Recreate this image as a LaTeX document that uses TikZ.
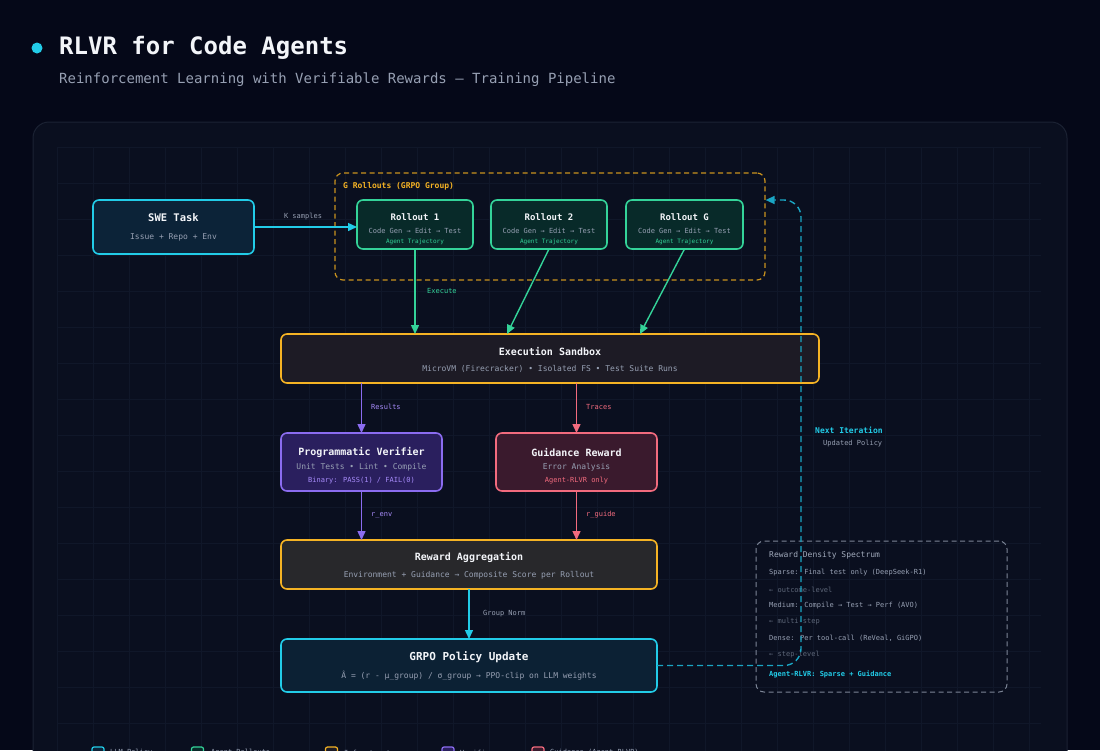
\documentclass[tikz,border=0pt]{standalone}
\usepackage{fontspec}
\setmainfont{DejaVu Sans Mono}
\usetikzlibrary{arrows.meta,calc}
\definecolor{bgc}{HTML}{050818}
\definecolor{cardc}{HTML}{0A0F1F}
\definecolor{cardb}{HTML}{1B2233}
\definecolor{gridc}{HTML}{101729}
\definecolor{cyanc}{HTML}{22CCE8}
\definecolor{cyand}{HTML}{1AA6C4}
\definecolor{greenc}{HTML}{34D399}
\definecolor{orangec}{HTML}{F5B324}
\definecolor{oranged}{HTML}{C9921E}
\definecolor{violetc}{HTML}{8B6CF0}
\definecolor{violetl}{HTML}{A78BFA}
\definecolor{rosec}{HTML}{F26B7E}
\definecolor{greyt}{HTML}{97A0B3}
\definecolor{greyd}{HTML}{5E6779}
\definecolor{greyb}{HTML}{7C8596}
\definecolor{whitet}{HTML}{F3F5F9}
\definecolor{sweF}{HTML}{0C2338}
\definecolor{rollF}{HTML}{082A29}
\definecolor{sandF}{HTML}{1D1B25}
\definecolor{verF}{HTML}{2A1F5E}
\definecolor{guiF}{HTML}{3A1A2D}
\definecolor{aggF}{HTML}{28282B}
\definecolor{grpoF}{HTML}{0C2134}
\newcommand\pxs[1]{\fontsize{#1}{#1}\selectfont}
\begin{document}
\begin{tikzpicture}[x=1pt,y=-1pt,
  box/.style={rounded corners=6pt, line width=1.6pt, inner sep=0pt, outer sep=0pt},
  ttl/.style={font=\pxs{10}\bfseries, text=whitet, inner sep=0pt},
  sub/.style={font=\pxs{8}, text=greyt, inner sep=0pt},
  lbl/.style={font=\pxs{7}, inner sep=0pt, anchor=west},
  spec/.style={font=\pxs{7}, text=greyt, inner sep=0pt, anchor=west},
  tip/.style={-{Triangle[length=9pt,width=8pt]}, line width=1.4pt},
  leg/.style={rounded corners=2pt, line width=1.2pt, minimum width=12pt, minimum height=12pt, inner sep=0pt}
]
\useasboundingbox (0,0) rectangle (1100,750);
\clip (0,0) rectangle (1100,750);
\fill[bgc] (0,0) rectangle (1100,750);
% header
\fill[cyanc] (37,48) circle (5.5);
\node[anchor=west, inner sep=0pt, font=\pxs{24}\bfseries, text=whitet] (title) at (59,48) {RLVR for Code Agents};
\node[anchor=west, inner sep=0pt, font=\pxs{14}, text=greyt] (subtitle) at (59,80) {Reinforcement Learning with Verifiable Rewards — Training Pipeline};
% card
\draw[fill=cardc, draw=cardb, line width=1pt, rounded corners=16pt] (33,122) rectangle (1067,820);
\foreach \i in {0,...,27} \draw[gridc, line width=0.8pt] ({57+36*\i},147) -- ({57+36*\i},760);
\foreach \j in {0,...,17} \draw[gridc, line width=0.8pt] (57,{147+36*\j}) -- (1041,{147+36*\j});
% group box
\node[draw=oranged, dashed, dash pattern=on 5pt off 3.5pt, line width=1.2pt, rounded corners=8pt, minimum width=430pt, minimum height=107pt, inner sep=0pt] (grp) at (550,226.5) {};
\node[anchor=west, inner sep=0pt, font=\pxs{8}\bfseries, text=orangec] (grpl) at (343,186) {G Rollouts (GRPO Group)};
% SWE task
\node[box, draw=cyanc, fill=sweF, minimum width=161pt, minimum height=54pt] (swe) at (173.5,227) {};
\node[ttl, font=\pxs{10.5}\bfseries] (swet) at (173.5,218) {SWE Task};
\node[sub] (swes) at (173.5,237) {Issue + Repo + Env};
% rollouts
\node[box, draw=greenc, fill=rollF, minimum width=116pt, minimum height=49pt] (r1) at (415,224.5) {};
\node[box, draw=greenc, fill=rollF, minimum width=116pt, minimum height=49pt] (r2) at (549,224.5) {};
\node[box, draw=greenc, fill=rollF, minimum width=117pt, minimum height=49pt] (rG) at (684.5,224.5) {};
\foreach \n/\t in {r1/Rollout 1, r2/Rollout 2, rG/Rollout G}{
  \node[ttl, font=\pxs{9}\bfseries] (\n-t) at ($(\n.center)+(0,-7.5)$) {\t};
  \node[sub, font=\pxs{7}] (\n-s) at ($(\n.center)+(0,6.5)$) {Code Gen → Edit → Test};
  \node[sub, font=\pxs{6}, text=greenc] (\n-a) at ($(\n.center)+(0,17.5)$) {Agent Trajectory};
}
% sandbox
\node[box, draw=orangec, fill=sandF, minimum width=538pt, minimum height=49pt] (sand) at (550,358.5) {};
\node[ttl] (sandt) at (550,351) {Execution Sandbox};
\node[sub] (sands) at (550,369) {MicroVM (Firecracker) • Isolated FS • Test Suite Runs};
% verifier
\node[box, draw=violetc, fill=verF, minimum width=161pt, minimum height=58pt] (ver) at (361.5,462) {};
\node[ttl] (vert) at (361.5,452) {Programmatic Verifier};
\node[sub] (vers) at (361.5,467) {Unit Tests • Lint • Compile};
\node[sub, font=\pxs{7}, text=violetl] (verb) at (361.5,481) {Binary: PASS(1) / FAIL(0)};
% guidance
\node[box, draw=rosec, fill=guiF, minimum width=161pt, minimum height=58pt] (gui) at (576.5,462) {};
\node[ttl] (guit) at (576.5,452) {Guidance Reward};
\node[sub] (guis) at (576.5,467) {Error Analysis};
\node[sub, font=\pxs{7}, text=rosec] (guib) at (576.5,481) {Agent-RLVR only};
% aggregation
\node[box, draw=orangec, fill=aggF, minimum width=376pt, minimum height=49pt] (agg) at (469,564.5) {};
\node[ttl] (aggt) at (469,557) {Reward Aggregation};
\node[sub] (aggs) at (469,575) {Environment + Guidance → Composite Score per Rollout};
% grpo
\node[box, draw=cyanc, fill=grpoF, minimum width=376pt, minimum height=53pt] (grpo) at (469,665.5) {};
\node[ttl, font=\pxs{11}\bfseries] (grpot) at (469,657) {GRPO Policy Update};
\node[sub] (grpos) at (469,676) {Â = (r - μ\_group) / σ\_group → PPO-clip on LLM weights};
% spectrum box
\node[draw=greyb, dashed, dash pattern=on 5pt off 3.5pt, line width=1pt, rounded corners=8pt, minimum width=251pt, minimum height=151pt, inner sep=0pt] (spec) at (881.5,616.5) {};
\node[spec, font=\pxs{8}, text={greyt!90!white}] (sp0) at (769,555) {Reward Density Spectrum};
\node[spec] (sp1) at (769,573) {Sparse: Final test only (DeepSeek-R1)};
\node[spec, text=greyd] (sp2) at (769,589.5) {← outcome-level};
\node[spec] (sp3) at (769,606) {Medium: Compile → Test → Perf (AVO)};
\node[spec, text=greyd] (sp4) at (769,622) {← multi-step};
\node[spec] (sp5) at (769,638) {Dense: Per tool-call (ReVeal, GiGPO)};
\node[spec, text=greyd] (sp6) at (769,654.5) {← step-level};
\node[spec, font=\pxs{7}\bfseries, text=cyanc] (sp7) at (769,674) {Agent-RLVR: Sparse + Guidance};
% arrows
\draw[tip, cyanc] (swe.east) -- (swe.east -| r1.west);
\node[lbl, anchor=center, text=greyt] (ks) at (303,217) {K samples};
\draw[tip, greenc] (r1.south) -- (r1.south |- sand.north);
\draw[tip, greenc] (r2.south) -- ([xshift=-43pt]sand.north);
\draw[tip, greenc] (rG.south) -- ([xshift=90pt]sand.north);
\node[lbl, text=greenc] (exl) at (427,291) {Execute};
\draw[tip, violetc] (ver.north |- sand.south) -- (ver.north);
\node[lbl, text=violetl] (rsl) at (371,407) {Results};
\draw[tip, rosec] (gui.north |- sand.south) -- (gui.north);
\node[lbl, text=rosec] (trl) at (586,407) {Traces};
\draw[tip, violetc] (ver.south) -- (ver.south |- agg.north);
\node[lbl, text=violetl] (rel) at (371,515) {r\_env};
\draw[tip, rosec] (gui.south) -- (gui.south |- agg.north);
\node[lbl, text=rosec] (rgl) at (586,515) {r\_guide};
\draw[tip, cyanc] (agg.south) -- (grpo.north);
\node[lbl, text=greyt] (gnl) at (483,614) {Group Norm};
% feedback loop
\coordinate (lpA) at (801,665.5);
\coordinate (lpB) at (801,200);
\draw[tip, cyand, line width=1.4pt, dash pattern=on 6pt off 4pt, rounded corners=17pt] (grpo.east) -- (lpA) -- (lpB) -- (grp.east |- lpB);
\node[lbl, font=\pxs{8}\bfseries, text=cyanc] (nil) at (815,430) {Next Iteration};
\node[lbl, text=greyt] (upl) at (823,444) {Updated Policy};
% legend (cut by the lower edge)
\node[leg, draw=cyanc, fill=sweF] (lg1) at (98,753) {};
\node[lbl, text=greyt] (lg1t) at (110,753) {LLM Policy};
\node[leg, draw=greenc, fill=rollF] (lg2) at (197.5,753) {};
\node[lbl, text=greyt] (lg2t) at (211,753) {Agent Rollouts};
\node[leg, draw=orangec, fill=sandF] (lg3) at (331.5,753) {};
\node[lbl, text=greyt] (lg3t) at (344,753) {Infrastructure};
\node[leg, draw=violetc, fill=verF] (lg4) at (448,753) {};
\node[lbl, text=greyt] (lg4t) at (460,753) {Verifier};
\node[leg, draw=rosec, fill=guiF] (lg5) at (538,753) {};
\node[lbl, text=greyt] (lg5t) at (550,753) {Guidance (Agent-RLVR)};
\end{tikzpicture}
\end{document}
